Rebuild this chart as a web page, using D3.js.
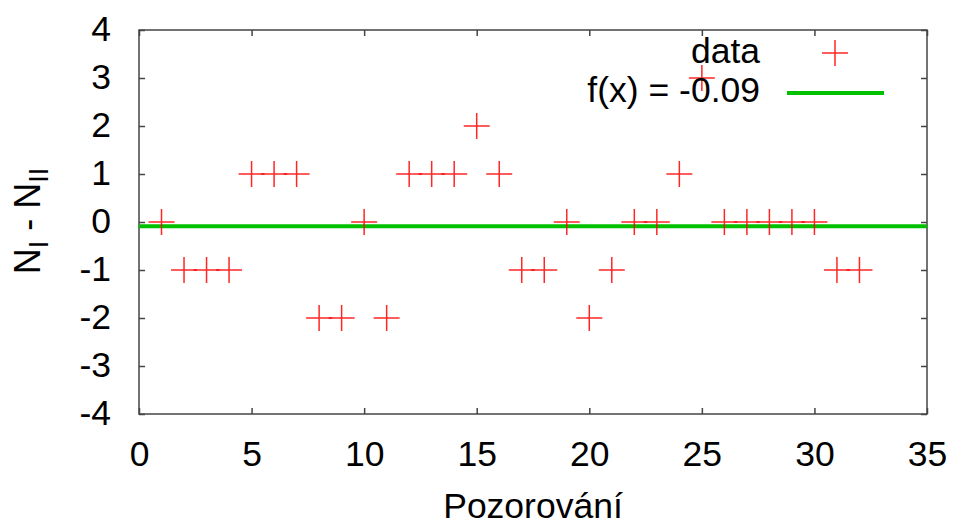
<!DOCTYPE html>
<html>
<head>
<meta charset="utf-8">
<script src="https://cdn.jsdelivr.net/npm/d3@7"></script>
<style>
html,body{margin:0;padding:0;background:#fff;}
svg{display:block;font-family:"Liberation Sans",Arial,sans-serif;}
</style>
</head>
<body>
<svg id="chart" width="953" height="526"></svg>
<script>
const observations = [1,2,3,4,5,6,7,8,9,10,11,12,13,14,15,16,17,18,19,20,21,22,23,24,25,26,27,28,29,30,31,32];
const differences  = [0,-1,-1,-1,1,1,1,-2,-2,0,-2,1,1,1,2,1,-1,-1,0,-2,-1,0,0,1,3,0,0,0,0,0,-1,-1];
const fitValue = -0.09;
const xTicks = [0,5,10,15,20,25,30,35];
const yTicks = [-4,-3,-2,-1,0,1,2,3,4];
const legendLabels = ["data", "f(x) = -0.09"];

const svg = d3.select("#chart");
const L = 139, R = 927, T = 30, B = 414;
const fs = 35.5;

const x = d3.scaleLinear().domain([0,35]).range([L,R]);
const y = d3.scaleLinear().domain([-4,4]).range([B,T]);

const axisColor = "#444";
const fmt = d => String(d);

function styleAxis(g){
  g.select(".domain").remove();
  g.selectAll(".tick line").attr("stroke", axisColor).attr("stroke-width",1.5);
  g.selectAll(".tick text").attr("fill","#000").style("font-size", fs+"px").style("font-family",'"Liberation Sans",Arial,sans-serif');
}

svg.append("g").attr("transform",`translate(0,${B})`)
  .call(d3.axisBottom(x).tickValues(xTicks).tickFormat(fmt).tickSizeInner(-6).tickSizeOuter(0).tickPadding(27))
  .call(styleAxis);
svg.append("g").attr("transform",`translate(0,${T})`)
  .call(d3.axisTop(x).tickValues(xTicks).tickFormat("").tickSizeInner(-6).tickSizeOuter(0))
  .call(styleAxis);
svg.append("g").attr("transform",`translate(${L},0)`)
  .call(d3.axisLeft(y).tickValues(yTicks).tickFormat(fmt).tickSizeInner(-6).tickSizeOuter(0).tickPadding(28))
  .call(styleAxis)
  .call(g=>g.selectAll(".tick text").attr("dy","0.3em"));
svg.append("g").attr("transform",`translate(${R},0)`)
  .call(d3.axisRight(y).tickValues(yTicks).tickFormat("").tickSizeInner(-6).tickSizeOuter(0))
  .call(styleAxis);

svg.append("rect").attr("x",L).attr("y",T).attr("width",R-L).attr("height",B-T)
  .attr("fill","none").attr("stroke",axisColor).attr("stroke-width",1.5);

const cross = "M-13,0H13M0,-13V13";
const red = "#ff0000";
const green = "#00c000";

svg.append("line")
  .attr("x1",x(0)).attr("x2",x(35)).attr("y1",y(fitValue)).attr("y2",y(fitValue))
  .attr("stroke",green).attr("stroke-width",4);

svg.append("g").selectAll("path").data(observations.map((o,i)=>[o,differences[i]]))
  .join("path")
  .attr("d",cross)
  .attr("transform",d=>`translate(${x(d[0])},${y(d[1])})`)
  .attr("stroke",red).attr("stroke-width",1.5).attr("stroke-opacity",0.85).attr("fill","none");

const lg = svg.append("g");
lg.append("text").attr("x",760).attr("y",63).attr("text-anchor","end")
  .style("font-size",fs+"px").text(legendLabels[0]);
lg.append("path").attr("d",cross).attr("transform","translate(835,53)")
  .attr("stroke",red).attr("stroke-width",1.5).attr("stroke-opacity",0.85).attr("fill","none");
lg.append("text").attr("x",760).attr("y",102).attr("text-anchor","end")
  .style("font-size",fs+"px").text(legendLabels[1]);
lg.append("line").attr("x1",787).attr("x2",884).attr("y1",93).attr("y2",93)
  .attr("stroke",green).attr("stroke-width",4);

svg.append("text").attr("x",533).attr("y",518).attr("text-anchor","middle")
  .style("font-size",fs+"px").text("Pozorování");

const yl = svg.append("text").attr("transform","translate(40,221) rotate(-90)")
  .attr("text-anchor","middle").style("font-size","36px");
yl.append("tspan").text("N");
yl.append("tspan").attr("dy",8).style("font-size","27px").text("I");
yl.append("tspan").attr("dy",-8).text(" - N");
yl.append("tspan").attr("dy",8).style("font-size","27px").text("II");
</script>
</body>
</html>
